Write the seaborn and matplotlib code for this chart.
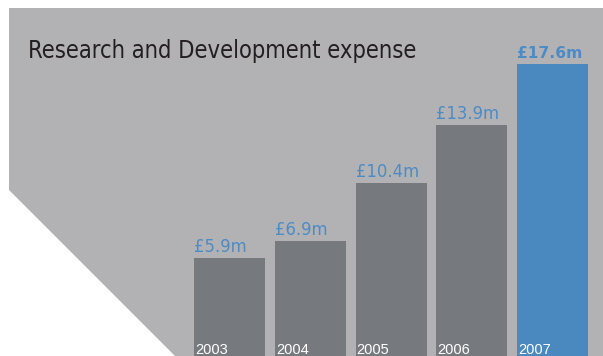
import matplotlib
matplotlib.use("Agg")
import matplotlib.pyplot as plt
from matplotlib.patches import Polygon
import seaborn as sns
import pandas as pd

# R&D expense by year, £ millions
years = ["2003", "2004", "2005", "2006", "2007"]
expense = [5.9, 6.9, 10.4, 13.9, 17.6]
value_labels = ["£5.9m", "£6.9m", "£10.4m", "£13.9m", "£17.6m"]
title = "Research and Development expense"

PANEL = "#b2b2b4"
BAR_GREY = "#76797d"
BAR_BLUE = "#4a88c0"
LABEL_BLUE = "#4d8bc5"
TITLE_COLOR = "#231f20"

sns.set_theme(style="white")

W, H = 603, 356
fig = plt.figure(figsize=(W / 100, H / 100), dpi=100)
fig.patch.set_facecolor("white")

# grey backdrop with the clipped lower-left corner (pixel coords, origin top-left)
corner = [(9, 8), (603, 8), (603, 356), (175, 356), (9, 190)]
fig.patches.append(Polygon([(x / W, 1 - y / H) for x, y in corner], closed=True,
                           transform=fig.transFigure, facecolor=PANEL,
                           edgecolor="none", zorder=0))

ax = fig.add_axes([0, 0, 1, 1])
ax.set_facecolor("none")
ax.set_zorder(2)

df = pd.DataFrame({"year": years, "expense": expense})
palette = {y: BAR_GREY for y in years}
palette[years[-1]] = BAR_BLUE
bar_w = 0.879
sns.barplot(data=df, x="year", y="expense", hue="year", palette=palette,
            width=bar_w, saturation=1, legend=False, linewidth=0, ax=ax)

ax.set_xlim(-2.842, 4.625)
ax.set_ylim(0, H / 16.6)
ax.set_axis_off()

for i, (v, lab) in enumerate(zip(expense, value_labels)):
    last = i == len(expense) - 1
    ax.annotate(lab, xy=(i - bar_w / 2, v), xytext=(0, 6), textcoords="offset pixels",
                ha="left", va="baseline", color=LABEL_BLUE,
                fontsize=11.2 if last else 11.9,
                fontweight="bold" if last else "normal",
                family=["DejaVu Sans"])
    ax.annotate(years[i], xy=(i - bar_w / 2, 0), xytext=(1, 2), textcoords="offset pixels",
                ha="left", va="baseline", color="white", fontsize=10.5,
                family=["Liberation Sans", "DejaVu Sans"])

fig.text(28 / W, 1 - 58 / H, title, ha="left", va="baseline", color=TITLE_COLOR,
         fontsize=17, family=["DejaVu Sans"], fontstretch="condensed", zorder=3)

fig.savefig("out.png", dpi=100, facecolor="white")
